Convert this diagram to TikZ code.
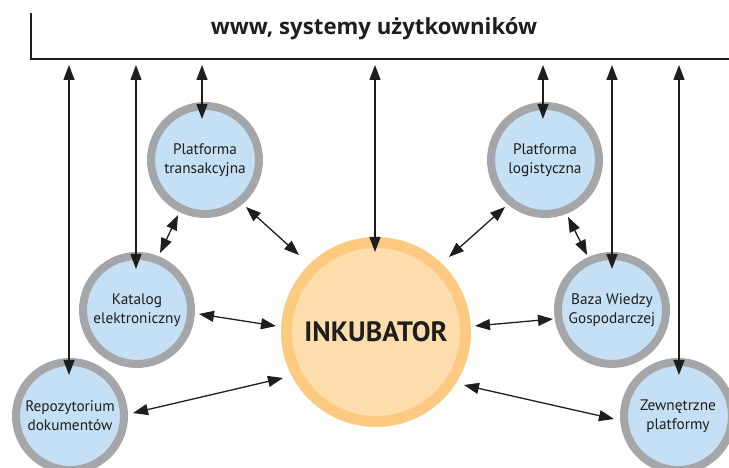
\documentclass[tikz,border=0pt]{standalone}
\usepackage{fontspec}
\setmainfont{PT Sans}
\newfontfamily\titlefont{Open Sans}
\usetikzlibrary{arrows.meta,calc}
\definecolor{ringgray}{RGB}{164,166,170}
\definecolor{fillblue}{RGB}{197,224,244}
\definecolor{ringorange}{RGB}{252,202,128}
\definecolor{fillorange}{RGB}{253,221,171}
\definecolor{ink}{RGB}{30,30,30}
\tikzset{
  small/.style={circle, draw=ringgray, fill=fillblue, line width=8pt, minimum size=108pt, inner sep=0pt, align=center, font=\fontsize{15.3}{19}\selectfont, text=ink},
  big/.style={circle, draw=ringorange, fill=fillorange, line width=11pt, minimum size=179pt, inner sep=0pt, font=\fontsize{28}{30}\selectfont\bfseries, text=ink},
  dbl/.style={{Triangle[length=15pt,width=11pt]}-{Triangle[length=15pt,width=11pt]}, line width=1.3pt, draw=ink},
  frame/.style={line width=1.2pt, draw=ink}
}
\begin{document}
\begin{tikzpicture}[x=1pt,y=1pt]
\useasboundingbox (0,0) rectangle (729,468);
\clip (0,0) rectangle (729,468);
% top frame
\coordinate (fTop) at (31,455);
\coordinate (fCorner) at (31,409);
\coordinate (fEnd) at (729,409);
\draw[frame] (fTop) -- (fCorner) -- (fEnd);
\node[font=\titlefont\fontsize{22.2}{24}\selectfont\bfseries, text=ink] (title) at (374,439) {www, systemy użytkowników};
% circles
\node[small] (T) at (205,308) {Platforma\\transakcyjna};
\node[small] (K) at (137,158) {Katalog\\elektroniczny};
\node[small] (R) at (70,52) {Repozytorium\\dokumentów};
\node[big] (I) at (376,136) {INKUBATOR};
\node[small] (L) at (545,308) {Platforma\\logistyczna};
\node[small] (B) at (612,158) {Baza Wiedzy\\Gospodarczej};
\node[small] (Z) at (678,52) {Zewnętrzne\\platformy};
% coordinates on the top line
\coordinate (aR) at (69,409);
\coordinate (aK) at (136,409);
\coordinate (aT) at (202,409);
\coordinate (aI) at (375,409);
\coordinate (aL) at (543,409);
\coordinate (aB) at (612,409);
\coordinate (aZ) at (679,409);
\foreach \a/\n in {aR/R,aK/K,aT/T,aL/L,aB/B,aZ/Z}{
  \draw[dbl, shorten <=6pt] (\a) -- ($(\a |- \n.north)+(0,-17)$);
}
\draw[dbl, shorten <=6pt] (aI) -- ($(aI |- I.north)+(0,-15)$);
% diagonal / horizontal connectors
\draw[dbl] ($(T)+(243.9:61.3)$) -- ($(K)+(68:61.5)$);
\draw[dbl] ($(T)+(-48.9:62.4)$) -- ($(I)+(135:108.9)$);
\draw[dbl] ($(K)+(-3.7:62.1)$) -- ($(I)+(176.6:100.2)$);
\draw[dbl] ($(R)+(2.7:63.1)$) -- ($(I)+(206.3:103.8)$);
\draw[dbl] ($(L)+(229.6:61.7)$) -- ($(I)+(45.8:104.7)$);
\draw[dbl] ($(L)+(-68:61.5)$) -- ($(B)+(114.4:60.4)$);
\draw[dbl] ($(B)+(188.7:59.7)$) -- ($(I)+(3.5:99.2)$);
\draw[dbl] ($(Z)+(182.7:64.1)$) -- ($(I)+(-31.1:102.7)$);
\end{tikzpicture}
\end{document}
